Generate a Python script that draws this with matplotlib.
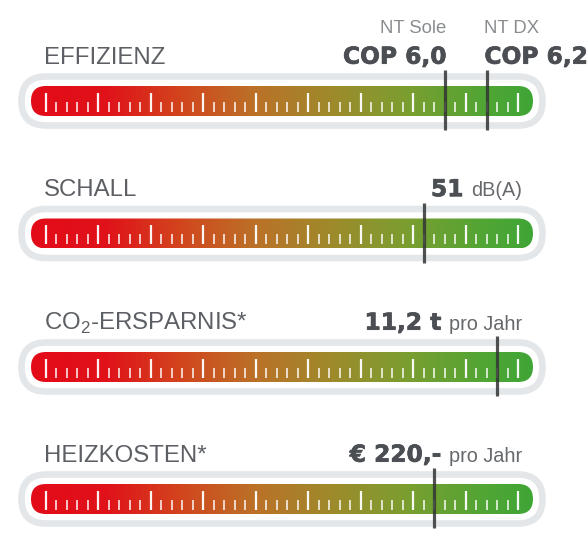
import matplotlib.pyplot as plt
import matplotlib.transforms as mtransforms
import matplotlib.patheffects as pe
from matplotlib.patches import FancyBboxPatch
from matplotlib.colors import LinearSegmentedColormap
import numpy as np

# --- 1. Daten ---
labels = ["EFFIZIENZ", "SCHALL", "CO$_\\mathregular{2}$-ERSPARNIS*", "HEIZKOSTEN*"]
values_bold = [None, "51", "11,2 t", "€ 220,-"]
units = [None, "dB(A)", "pro Jahr", "pro Jahr"]
# Markerposition auf der Skala (0 .. 45 Teilstriche)
marker_pos = [[38, 42], [36], [43], [37]]
# Effizienz hat zwei Marker mit eigener Beschriftung
eff_names = ["NT Sole", "NT DX"]
eff_values = ["COP 6,0", "COP 6,2"]
n_ticks = 46

# --- 2. Layout (Pixel) ---
W, H = 588, 533
bar_tops = [86, 218.5, 352, 484]
bar_h = 30
bar_x0, bar_x1 = 31, 533
tick_x0, tick_step = 45.5, 10.5

plt.rcParams['font.family'] = ['Liberation Sans', 'DejaVu Sans']
plt.rcParams['mathtext.fontset'] = 'custom'
plt.rcParams['mathtext.rm'] = 'Liberation Sans'

fig = plt.figure(figsize=(W / 100, H / 100), dpi=100)
ax = fig.add_axes([0, 0, 1, 1])
ax.set_xlim(0, W)
ax.set_ylim(H, 0)
ax.axis('off')

# Skala -> Pixel
gauge = mtransforms.Affine2D().scale(tick_step, 1).translate(tick_x0, 0) + ax.transData

cmap = LinearSegmentedColormap.from_list("ampel", [
    (0.0, "#e30c18"), (0.15, "#e0121a"), (0.30, "#d2461d"), (0.45, "#ba7228"),
    (0.60, "#9e8a2b"), (0.75, "#7b9e30"), (0.90, "#52a534"), (1.0, "#3fa636")])
grad = np.linspace(0, 1, 400).reshape(1, -1)

label_col = "#5c5f63"
bold_col = "#4b4e52"
unit_col = "#66696c"
heavy = [pe.withStroke(linewidth=0.5, foreground=bold_col)]

for k, top in enumerate(bar_tops):
    bottom = top + bar_h
    r = bar_h / 2

    # grauer Rahmen
    off = 9.5
    ring = FancyBboxPatch((bar_x0 - off, top - off), bar_x1 - bar_x0 + 2 * off, bar_h + 2 * off,
                          boxstyle=f"round,pad=0,rounding_size={r + off}",
                          facecolor="none", edgecolor="#e4e7ea", linewidth=4.8, zorder=1)
    ax.add_patch(ring)

    # Farbverlauf
    pill = FancyBboxPatch((bar_x0, top), bar_x1 - bar_x0, bar_h,
                          boxstyle=f"round,pad=0,rounding_size={r}",
                          facecolor="none", edgecolor="none", zorder=2)
    ax.add_patch(pill)
    im = ax.imshow(grad, cmap=cmap, extent=[bar_x0, bar_x1, bottom, top],
                   aspect='auto', zorder=2, interpolation='bilinear')
    im.set_clip_path(pill)

    # Teilstriche
    idx = np.arange(n_ticks)
    major = idx[idx % 5 == 0]
    minor = idx[idx % 5 != 0]
    ax.vlines(major, top + 6.5, top + 25.7, colors="white", linewidth=1.6, alpha=0.95,
              transform=gauge, zorder=3)
    ax.vlines(minor, top + 15.5, top + 25.7, colors="white", linewidth=1.4, alpha=0.75,
              transform=gauge, zorder=3)

    # Marker
    ax.vlines(marker_pos[k], top - 16, bottom + 14, colors="#333333", linewidth=2.3,
              alpha=0.85, transform=gauge, zorder=4)

    # Beschriftung
    base = top - 22.3
    ax.text(44, base, labels[k], fontsize=17.3, color=label_col, va='baseline', ha='left')

    if k == 0:
        for j, m in enumerate(marker_pos[0]):
            ha = 'right' if j == 0 else 'left'
            dx = 0.2 if j == 0 else -0.2
            ax.text(m + dx, base, eff_values[j], fontsize=16.8, fontweight='bold',
                    family='DejaVu Sans', color=bold_col, va='baseline', ha=ha,
                    transform=gauge, path_effects=heavy)
            ax.text(m + dx, 33.3, eff_names[j], fontsize=13.3, color="#8a8d90",
                    va='baseline', ha=ha, transform=gauge)
    else:
        t = ax.text(522, base, units[k], fontsize=14.3, color=unit_col, va='baseline', ha='right')
        fig.canvas.draw()
        bb = t.get_window_extent()
        x_left = ax.transData.inverted().transform((bb.x0, bb.y0))[0]
        ax.text(x_left - 7.5, base, values_bold[k], fontsize=16.8, fontweight='bold',
                family='DejaVu Sans', color=bold_col, va='baseline', ha='right',
                path_effects=heavy)

fig.savefig("out.png", dpi=100)
